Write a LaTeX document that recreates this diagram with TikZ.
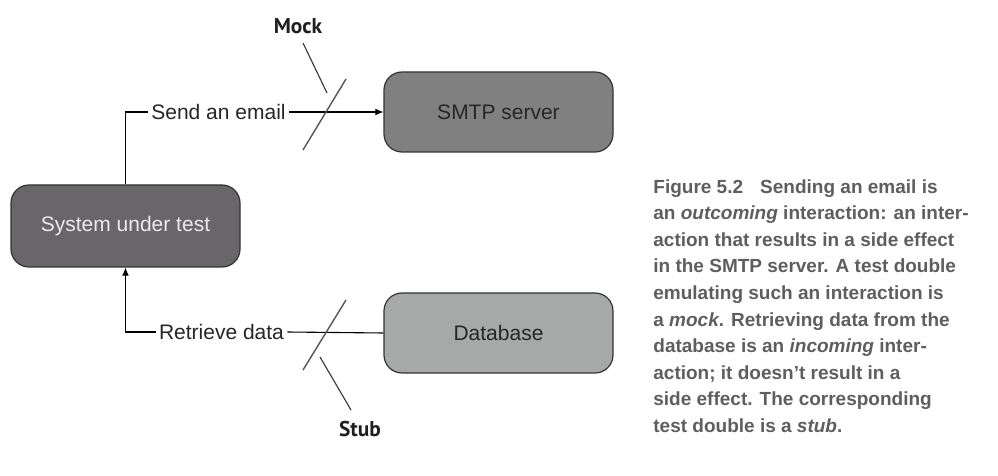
\documentclass[tikz,border=0pt]{standalone}
\usepackage{fontspec}
\setmainfont{Liberation Sans}
\newfontfamily\calloutfont{PT Sans}
\usepackage{xcolor}
\usetikzlibrary{arrows.meta, positioning}

\definecolor{smtpgray}{HTML}{808080}
\definecolor{sutgray}{HTML}{686668}
\definecolor{dbgray}{HTML}{A7A9A9}
\definecolor{edgegray}{HTML}{333333}
\definecolor{slashgray}{HTML}{555555}
\definecolor{capgray}{HTML}{5E5E5E}

\begin{document}
\begin{tikzpicture}[
      x=0.5pt, y=-0.5pt,
      font=\fontsize{10.5}{12}\selectfont,
      box/.style={draw=edgegray, line width=0.6pt, rectangle, rounded corners=9pt,
          minimum width=114.5pt, minimum height=40pt, align=center, text=black!85},
      sutbox/.style={box, fill=sutgray, minimum height=41pt, text=white!92!black},
      lbl/.style={inner sep=1.5pt, text=black!85},
      callout/.style={font=\calloutfont\bfseries\fontsize{10.7}{12}\selectfont, text=black!88},
      arr/.style={-{Latex[length=4pt, width=3.4pt]}, line width=0.55pt},
      conn/.style={line width=0.55pt},
      slash/.style={draw=slashgray, line width=0.7pt},
      lead/.style={draw=edgegray, line width=0.55pt},
    ]
    \useasboundingbox (0,0) rectangle (998,476);

    \node[sutbox] (sut) at (125.5,226) {System under test};
    \node[box, fill=smtpgray] (smtp) at (498.5,112) {SMTP server};
    \node[box, fill=dbgray] (db) at (498.5,333) {Database};

    \node[lbl] (send) at (218.5,112) {Send an email};
    \node[lbl] (ret) at (221.5,332) {Retrieve data};

    \node[callout] (mock) at (298,26) {Mock};
    \node[callout] (stub) at (360,429) {Stub};

    \draw[conn] (sut.north) |- (send.west);
    \draw[arr] (send.east) -- (smtp.west);
    \draw[conn] (db.west) -- (ret.east);
    \draw[arr] (ret.west) -| (sut.south);

    \coordinate (m1) at (303,150);
    \coordinate (m2) at (346,79);
    \coordinate (mtop) at (303,43);
    \coordinate (mend) at (327,93);
    \draw[slash] (m1) -- (m2);
    \draw[lead] (mtop) -- (mend);

    \coordinate (s1) at (303,370);
    \coordinate (s2) at (346,300);
    \coordinate (sbeg) at (320,357);
    \coordinate (sbot) at (351,410);
    \draw[slash] (s1) -- (s2);
    \draw[lead] (sbeg) -- (sbot);

    \node[anchor=north west, inner sep=0pt, align=left, text=capgray,
          font=\bfseries\fontsize{9.5}{13.3}\selectfont] (cap) at (653,179)
      {Figure 5.2\hspace{0.9em}Sending an email is\\
       an \textit{outcoming} interaction: an inter-\\
       action that results in a side effect\\
       in the SMTP server. A test double\\
       emulating such an interaction is\\
       a \textit{mock}. Retrieving data from the\\
       database is an \textit{incoming} inter-\\
       action; it doesn’t result in a\\
       side effect. The corresponding\\
       test double is a \textit{stub}.};

  \end{tikzpicture}
\end{document}
